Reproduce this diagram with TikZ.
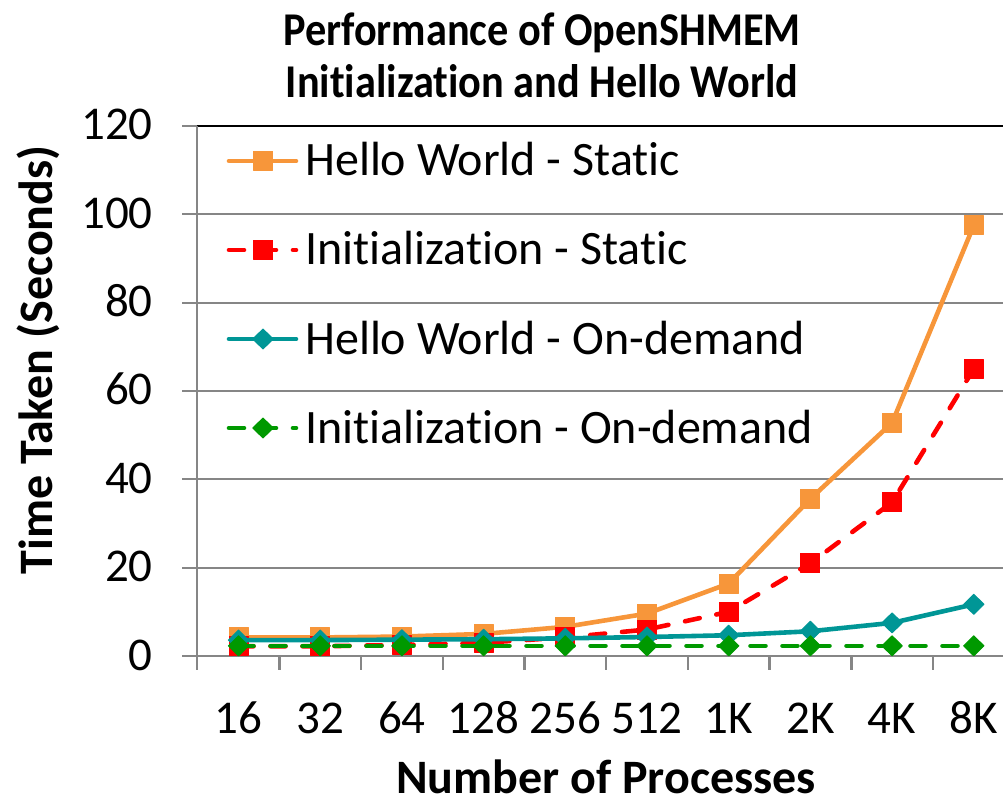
\documentclass[tikz,border=0pt]{standalone}
\usepackage{fontspec}
\setmainfont{Carlito}[Ligatures=NoCommon]
\usetikzlibrary{plotmarks}

\definecolor{hwstatic}{RGB}{247,150,58}
\definecolor{initstatic}{RGB}{255,0,0}
\definecolor{hwdemand}{RGB}{0,150,150}
\definecolor{initdemand}{RGB}{0,153,0}
\definecolor{gridgray}{RGB}{134,134,134}

\tikzset{
  gridline/.style={draw=gridgray, line width=2pt},
  axisline/.style={draw=gridgray, line width=2.5pt},
  series/.style={line width=4.6pt, line cap=round, line join=round},
  dashedseries/.style={series, dash pattern=on 15pt off 17pt},
  sqmark/.style={mark=square*, mark size=9.5pt, mark options={solid, line width=1pt}},
  dimark/.style={mark=diamond*, mark size=10pt, mark options={solid, line width=1pt, xscale=1.35}},
  ticklabel/.style={font=\fontsize{47}{56}\selectfont, inner sep=0pt},
  legendtext/.style={font=\fontsize{48}{56}\selectfont, inner sep=0pt},
  titletext/.style={font=\fontsize{47}{56}\selectfont\bfseries, inner sep=0pt, xscale=0.9},
  axistitle/.style={font=\fontsize{48}{56}\selectfont\bfseries, inner sep=0pt},
}

\begin{document}
\begin{tikzpicture}[x=1pt, y=-1pt]
\useasboundingbox (0,0) rectangle (1003,802);

% horizontal gridlines with their ticks
\foreach \v in {20,40,60,80,100}
  \draw[gridline] (182,{656-4.417*\v}) -- (1003,{656-4.417*\v});
\draw[gridline] (182,126) -- (197,126);
\draw[line width=2pt, black] (197,126) -- (1003,126);

% axes
\draw[axisline] (197,126) -- (197,670);
\draw[axisline] (182,656) -- (1003,656);
\foreach \k in {1,...,9}
  \draw[axisline] ({197.7+81.7*\k},656) -- ({197.7+81.7*\k},670);

% y tick labels
\foreach \v in {0,20,40,60,80,100,120}
  \node[ticklabel, anchor=base east] (ylab\v) at (153,{656-4.417*\v+14}) {\v};

% x tick labels
\foreach \lbl [count=\i from 0] in {16,32,64,128,256,512,1K,2K,4K,8K}
  \node[ticklabel, anchor=base] (xlab\i) at ({238.5+81.7*\i},733) {\lbl};

% titles
\node[titletext, anchor=base] (title1) at (542,46) {Performance of OpenSHMEM};
\node[titletext, anchor=base] (title2) at (542,98) {Initialization and Hello World};
\node[axistitle, anchor=base] (xtitle) at (606,793) {Number of Processes};
\node[axistitle, anchor=base, rotate=90] (ytitle) at (52,360) {Time Taken (Seconds)};

% data series
\begin{scope}[shift={(238.5pt,-656pt)}, x=81.7pt, y=4.417pt]
  \draw[series, hwstatic, sqmark] plot coordinates {(0,4.2) (1,4.2) (2,4.4) (3,5.0) (4,6.6) (5,9.6) (6,16.4) (7,35.6) (8,52.8) (9,97.5)};
  \draw[dashedseries, initstatic, sqmark] plot coordinates {(0,2.2) (1,2.2) (2,2.5) (3,3.0) (4,4.2) (5,6.0) (6,10.0) (7,21.0) (8,34.8) (9,65.0)};
  \draw[series, hwdemand, dimark] plot coordinates {(0,3.6) (1,3.6) (2,3.7) (3,3.8) (4,4.0) (5,4.3) (6,4.7) (7,5.6) (8,7.5) (9,11.7)};
  \draw[dashedseries, initdemand, dimark] plot coordinates {(0,2.3) (1,2.3) (2,2.3) (3,2.3) (4,2.3) (5,2.3) (6,2.3) (7,2.3) (8,2.3) (9,2.3)};
\end{scope}

% legend
\draw[series, hwstatic] (229,161) -- (296,161);
\draw[series, hwstatic, sqmark] plot coordinates {(263,161)};
\node[legendtext, anchor=base west] (leg1) at (305,176) {Hello World - Static};

\draw[dashedseries, initstatic] (229,250) -- (296,250);
\draw[series, initstatic, sqmark] plot coordinates {(263,250)};
\node[legendtext, anchor=base west] (leg2) at (305,265) {Initialization - Static};

\draw[series, hwdemand] (229,339) -- (296,339);
\draw[series, hwdemand, dimark] plot coordinates {(263,339)};
\node[legendtext, anchor=base west] (leg3) at (305,354) {Hello World - On-demand};

\draw[dashedseries, initdemand] (229,428) -- (296,428);
\draw[series, initdemand, dimark] plot coordinates {(263,428)};
\node[legendtext, anchor=base west] (leg4) at (305,443) {Initialization - On-demand};
\end{tikzpicture}
\end{document}
